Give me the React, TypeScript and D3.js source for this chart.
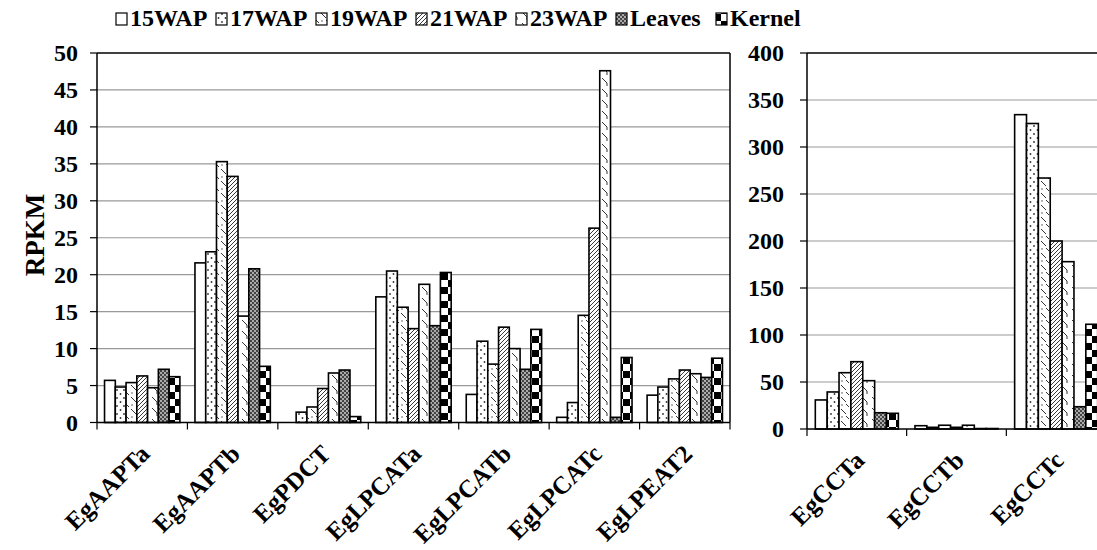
import React from "react";
import * as d3 from "d3";

const seriesNames = ["15WAP", "17WAP", "19WAP", "21WAP", "23WAP", "Leaves", "Kernel"];

const leftCategories = ["EgAAPTa", "EgAAPTb", "EgPDCT", "EgLPCATa", "EgLPCATb", "EgLPCATc", "EgLPEAT2"];
const rightCategories = ["EgCCTa", "EgCCTb", "EgCCTc"];

// values per category, in order of seriesNames
const leftValues = [
  [5.7, 4.8, 5.4, 6.3, 4.7, 7.2, 6.2],
  [21.6, 23.1, 35.3, 33.3, 14.4, 20.8, 7.6],
  [0, 1.4, 2.1, 4.6, 6.7, 7.1, 0.8],
  [17.0, 20.5, 15.6, 12.7, 18.7, 13.1, 20.3],
  [3.8, 11.0, 7.9, 12.9, 10.0, 7.2, 12.6],
  [0.7, 2.7, 14.5, 26.3, 47.6, 0.7, 8.8],
  [3.7, 4.8, 5.9, 7.1, 6.6, 6.1, 8.7],
];
const rightValues = [
  [30.9, 39.4, 59.9, 71.6, 51.4, 17.3, 16.7],
  [3.5, 1.8, 4.0, 1.8, 4.0, 0.5, 0.5],
  [334.4, 325, 267, 200, 178, 23.7, 111.4],
];

const leftTicks = [0, 5, 10, 15, 20, 25, 30, 35, 40, 45, 50];
const rightTicks = [0, 50, 100, 150, 200, 250, 300, 350, 400];

const FONT = "'Liberation Serif', 'Times New Roman', serif";

function Patterns() {
  return (
    <defs>
      <pattern id="p0" width="8" height="8" patternUnits="userSpaceOnUse">
        <rect width="8" height="8" fill="#fff" />
      </pattern>
      <pattern id="p1" width="7" height="8" patternUnits="userSpaceOnUse">
        <rect width="7" height="8" fill="#fff" />
        <circle cx="1.5" cy="2" r="0.9" fill="#333" />
        <circle cx="5" cy="6" r="0.9" fill="#333" />
      </pattern>
      <pattern id="p2" width="10" height="12" patternUnits="userSpaceOnUse">
        <rect width="10" height="12" fill="#fff" />
        <path d="M1,1 L6,6 M6,8 L9,11" stroke="#333" strokeWidth="1" fill="none" />
        <circle cx="2" cy="9" r="0.7" fill="#333" />
      </pattern>
      <pattern id="p3" width="4" height="4" patternUnits="userSpaceOnUse">
        <rect width="4" height="4" fill="#fff" />
        <path d="M-1,1 L1,-1 M0,4 L4,0 M3,5 L5,3" stroke="#222" strokeWidth="0.9" />
      </pattern>
      <pattern id="p4" width="10" height="11" patternUnits="userSpaceOnUse">
        <rect width="10" height="11" fill="#fff" />
        <path d="M2,1 L7,6 L7,9" stroke="#333" strokeWidth="1" fill="none" />
      </pattern>
      <pattern id="p5" width="4" height="4" patternUnits="userSpaceOnUse">
        <rect width="4" height="4" fill="#444" />
        <circle cx="1" cy="1" r="0.9" fill="#ddd" />
        <circle cx="3" cy="3" r="0.9" fill="#ddd" />
      </pattern>
      <pattern id="p6" width="14" height="14" patternUnits="userSpaceOnUse">
        <rect width="14" height="14" fill="#fff" />
        <rect x="0" y="0" width="7" height="7" fill="#000" />
        <rect x="7" y="7" width="7" height="7" fill="#000" />
      </pattern>
    </defs>
  );
}

function Panel({
  categories,
  values,
  ticks,
  x0,
  x1,
  yBottom,
  yTop,
  max,
  labelRight,
}: {
  categories: string[];
  values: number[][];
  ticks: number[];
  x0: number;
  x1: number;
  yBottom: number;
  yTop: number;
  max: number;
  labelRight: number;
}) {
  const x = d3.scaleBand<string>().domain(categories).range([x0, x1]).padding(0);
  const inner = d3
    .scaleBand<string>()
    .domain(seriesNames)
    .range([0, x.bandwidth()])
    .paddingInner(0)
    .paddingOuter(0.7);
  const y = d3.scaleLinear().domain([0, max]).range([yBottom, yTop]);
  return (
    <g>
      {ticks.map((t) =>
        t > 0 && t < max ? (
          <line key={"g" + t} x1={x0} x2={x1} y1={y(t)} y2={y(t)} stroke="#999" strokeWidth={1.2} />
        ) : null
      )}
      {categories.map((c, ci) =>
        values[ci].map((v, si) =>
          v > 0 ? (
            <rect
              key={c + si}
              x={(x(c) as number) + (inner(seriesNames[si]) as number)}
              y={y(v)}
              width={inner.bandwidth()}
              height={yBottom - y(v)}
              fill={`url(#p${si})`}
              stroke="#000"
              strokeWidth={1.6}
            />
          ) : null
        )
      )}
      <line x1={x0} x2={x0} y1={yTop} y2={yBottom} stroke="#000" strokeWidth={1.5} />
      <line x1={x0} x2={x1} y1={yTop} y2={yTop} stroke="#000" strokeWidth={1.5} />
      <line x1={x1} x2={x1} y1={yTop} y2={yBottom} stroke="#000" strokeWidth={1.5} />
      <line x1={x0} x2={x1} y1={yBottom} y2={yBottom} stroke="#000" strokeWidth={1.5} />
      {ticks.map((t) => (
        <g key={"t" + t}>
          <line x1={x0 - 7} x2={x0} y1={y(t)} y2={y(t)} stroke="#000" strokeWidth={1.2} />
          <text
            x={labelRight}
            y={y(t)}
            textAnchor="end"
            dy="0.35em"
            fontFamily={FONT}
            fontWeight="bold"
            fontSize={24}
          >
            {t}
          </text>
        </g>
      ))}
      {[...categories.map((c) => x(c) as number), x1].map((tx, i) => (
        <line key={"xt" + i} x1={tx} x2={tx} y1={yBottom} y2={yBottom + 7} stroke="#000" strokeWidth={1.2} />
      ))}
      {categories.map((c) => {
        const cx = (x(c) as number) + x.bandwidth() / 2;
        return (
          <text
            key={"xl" + c}
            transform={`translate(${cx + 9},${yBottom + 33}) rotate(-45)`}
            textAnchor="end"
            fontFamily={FONT}
            fontWeight="bold"
            fontSize={25}
          >
            {c}
          </text>
        );
      })}
    </g>
  );
}

export default function App() {
  return (
    <svg
      width={1097}
      height={550}
      style={{ position: "absolute", left: 0, top: 0, background: "#fff" }}
    >
      <Patterns />
      <rect width={1097} height={550} fill="#fff" />
      <Panel
        categories={leftCategories}
        values={leftValues}
        ticks={leftTicks}
        x0={97}
        x1={730}
        yBottom={422.5}
        yTop={53}
        max={50}
        labelRight={78}
      />
      <Panel
        categories={rightCategories}
        values={rightValues}
        ticks={rightTicks}
        x0={807}
        x1={1106}
        yBottom={429}
        yTop={53}
        max={400}
        labelRight={784}
      />
      <text
        transform="translate(44,235) rotate(-90)"
        textAnchor="middle"
        fontFamily={FONT}
        fontWeight="bold"
        fontSize={27}
      >
        RPKM
      </text>
      {seriesNames.map((s, i) => {
        const lx = 116 + i * 100;
        return (
          <g key={"lg" + s}>
            <rect x={lx} y={13} width={11} height={12} fill={`url(#p${i})`} stroke="#000" strokeWidth={1.2} />
            <text x={lx + 14} y={26} fontFamily={FONT} fontWeight="bold" fontSize={24}>
              {s}
            </text>
          </g>
        );
      })}
    </svg>
  );
}
